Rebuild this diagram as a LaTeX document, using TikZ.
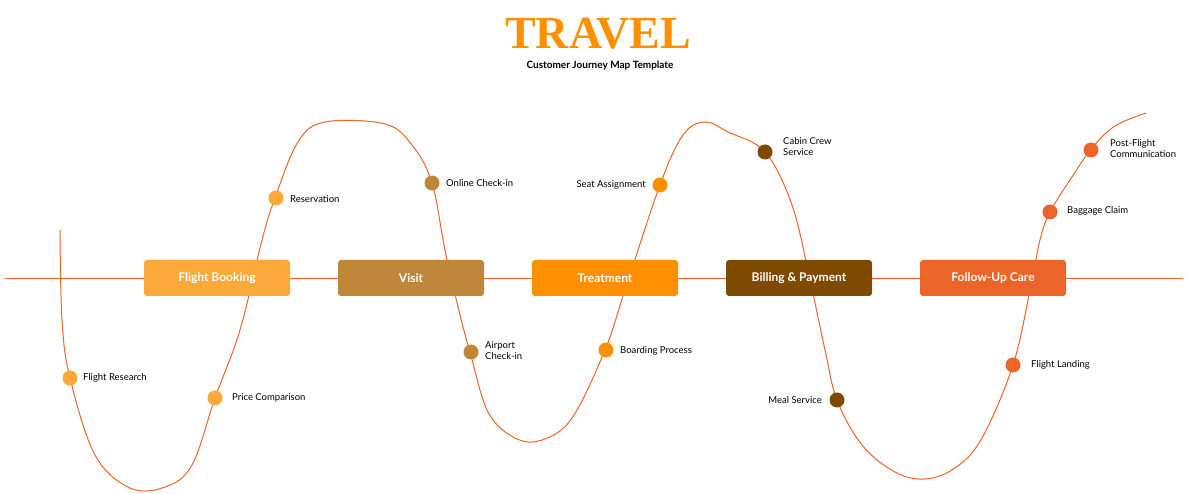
\documentclass[tikz,border=0pt]{standalone}
\usepackage{fontspec}
\setmainfont{Lato}
\newfontfamily\titlefont{Liberation Serif}
\definecolor{cBook}{HTML}{FBA93A}
\definecolor{cVisit}{HTML}{C0873A}
\definecolor{cTreat}{HTML}{FE9000}
\definecolor{cBill}{HTML}{7D4A00}
\definecolor{cCare}{HTML}{EB6429}
\tikzset{
  stage/.style={fill=#1, rounded corners=3pt, minimum width=146pt, minimum height=36pt, text=white, font=\fontsize{12}{14}\selectfont\bfseries},
  touch/.style={circle, fill=#1, minimum size=15pt, inner sep=0pt},
  lbl/.style={font=\fontsize{9.5}{11}\selectfont, align=left, inner sep=0pt}
}
\begin{document}
\begin{tikzpicture}[x=1pt,y=-1pt]
\useasboundingbox (0,0) rectangle (1200,494);
% axis
\coordinate (axL) at (5,278);
\coordinate (axR) at (1183,278);
\draw[cCare, line width=0.8pt] (axL) -- (axR);
% journey curve
\draw[cCare, line width=1pt] plot[smooth, tension=0.6] coordinates {(60,230) (62,320) (70,378) (95,455) (130,488) (165,487) (192,465) (215,398) (240,330) (262,240) (275,198) (298,142) (325,122) (385,124) (412,145) (432,183) (445,250) (460,315) (470,352) (488,412) (515,438) (542,440) (572,418) (605,350) (625,290) (660,185) (683,135) (705,122) (728,132) (765,152) (792,205) (810,280) (825,350) (837,400) (862,445) (895,472) (925,479) (955,468) (982,438) (1013,365) (1030,290) (1040,240) (1050,212) (1072,177) (1092,148) (1115,126) (1146,113)};
% stages
\node[stage=cBook] (booking) at (217,278) {Flight Booking};
\node[stage=cVisit] (visit) at (411,278) {Visit};
\node[stage=cTreat] (treat) at (605,278) {Treatment};
\node[stage=cBill] (bill) at (799,278) {Billing \& Payment};
\node[stage=cCare] (care) at (993,278) {Follow-Up Care};
% touchpoints
\node[touch=cBook] (research) at (70,378) {};
\node[touch=cBook] (price) at (215,398) {};
\node[touch=cBook] (reserve) at (276,198) {};
\node[touch=cVisit] (online) at (432,183) {};
\node[touch=cVisit] (airport) at (471,352) {};
\node[touch=cTreat] (boarding) at (606,350) {};
\node[touch=cTreat] (seat) at (660,185) {};
\node[touch=cBill] (cabin) at (765,152) {};
\node[touch=cBill] (meal) at (837,400) {};
\node[touch=cCare] (landing) at (1013,365) {};
\node[touch=cCare] (baggage) at (1050,212) {};
\node[touch=cCare] (post) at (1091,150) {};
% labels
\node[lbl, anchor=west] (researchL) at (83,378) {Flight Research};
\node[lbl, anchor=west] (priceL) at (232,398) {Price Comparison};
\node[lbl, anchor=west] (reserveL) at (290,199) {Reservation};
\node[lbl, anchor=west] (onlineL) at (446,183) {Online Check-in};
\node[lbl, anchor=west] (airportL) at (485,351) {Airport\\Check-in};
\node[lbl, anchor=west] (boardingL) at (620,351) {Boarding Process};
\node[lbl, anchor=east] (seatL) at (646,185) {Seat Assignment};
\node[lbl, anchor=west] (cabinL) at (783,147) {Cabin Crew\\Service};
\node[lbl, anchor=east] (mealL) at (822,400) {Meal Service};
\node[lbl, anchor=west] (landingL) at (1031,365) {Flight Landing};
\node[lbl, anchor=west] (baggageL) at (1067,211) {Baggage Claim};
\node[lbl, anchor=west] (postL) at (1110,149) {Post-Flight\\Communication};
% title
\node[text=cTreat, font=\titlefont\bfseries\fontsize{46}{46}\selectfont] (title) at (598,34) {TRAVEL};
\node[font=\bfseries\fontsize{10}{12}\selectfont] (subtitle) at (600,66) {Customer Journey Map Template};
\end{tikzpicture}
\end{document}
